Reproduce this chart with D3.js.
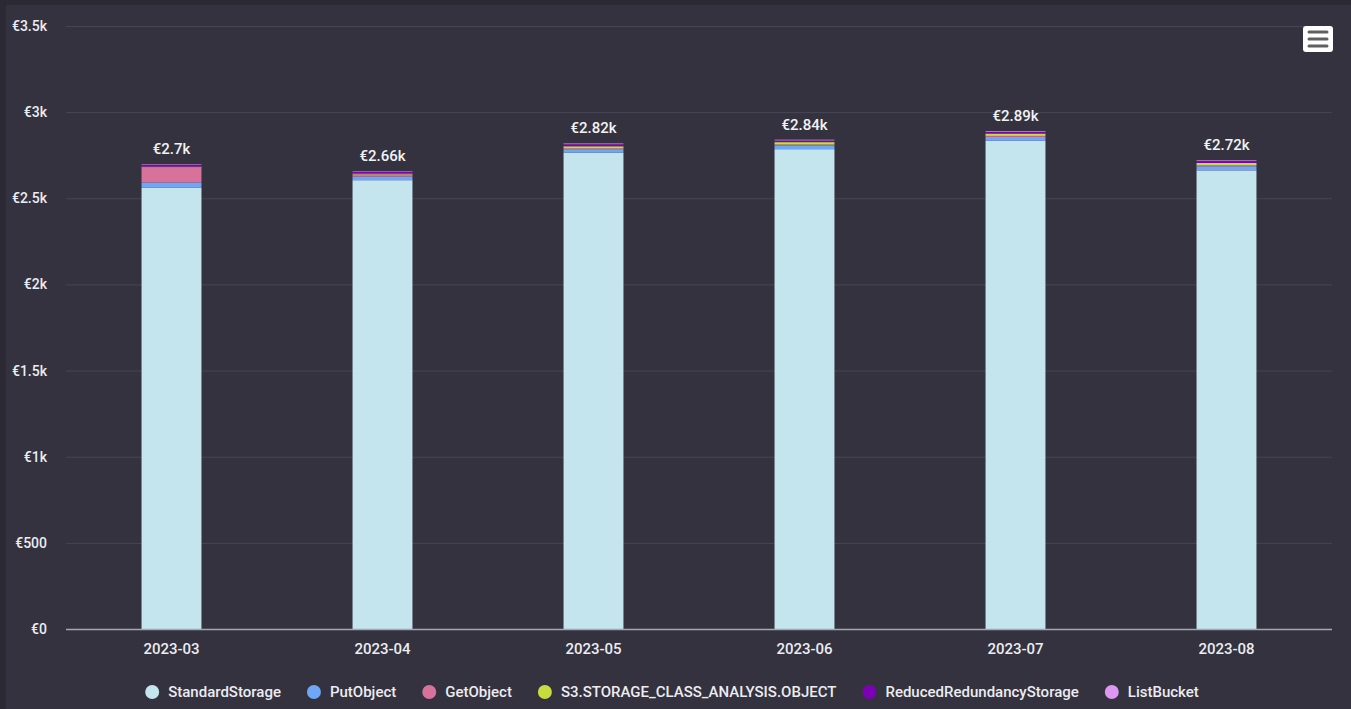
<!DOCTYPE html>
<html>
<head>
<meta charset="utf-8">
<script src="https://cdn.jsdelivr.net/npm/d3@7"></script>
<style>
  html, body { margin: 0; padding: 0; background: #2b2a34; }
  svg { display: block; font-family: Roboto, "Noto Sans", sans-serif; }
</style>
</head>
<body>
<svg id="chart" width="1351" height="709"></svg>
<script>
// Monthly S3 cost per usage type (EUR)
const months = ["2023-03", "2023-04", "2023-05", "2023-06", "2023-07", "2023-08"];
const seriesNames = ["StandardStorage", "PutObject", "GetObject", "S3.STORAGE_CLASS_ANALYSIS.OBJECT", "ReducedRedundancyStorage", "ListBucket"];
const standardStorage = [2562, 2605, 2765, 2785, 2835, 2662];
const putObject       = [30, 22, 20, 22, 22, 24];
const getObject       = [88, 12, 5, 5, 5, 5];
const storageAnalysis = [4, 5, 12, 14, 14, 14];
const reducedRedundancy = [11, 11, 12, 10, 10, 11];
const listBucket      = [3, 3, 4, 4, 4, 4];
const yTicks = [0, 500, 1000, 1500, 2000, 2500, 3000, 3500];
const colors = ["#c4e5ee", "#6fa6f6", "#d8729b", "#c7dc3e", "#7c00b4", "#dc97f2"];

const seriesValues = [standardStorage, putObject, getObject, storageAnalysis, reducedRedundancy, listBucket];
const rows = months.map((m, i) => {
  const r = { month: m };
  seriesNames.forEach((s, k) => { r[s] = seriesValues[k][i]; });
  return r;
});

const svg = d3.select("#chart");
const W = 1351, H = 709;
const margin = { left: 66, right: 19, top: 26, bottom: 80 };

// chart panel
svg.append("rect").attr("x", 6).attr("y", 5).attr("width", W - 6).attr("height", H - 5).attr("fill", "#33323e");

const x = d3.scaleBand().domain(months).range([margin.left, W - margin.right]).paddingInner(0.716).paddingOuter(0.358);
const y = d3.scaleLinear().domain([0, 3500]).range([H - margin.bottom, margin.top]);

const fmt = v => v === 0 ? "€0" : (v < 1000 ? "€" + v : "€" + d3.format("~")(v / 1000) + "k");

// grid
svg.append("g").selectAll("line").data(yTicks.filter(t => t > 0)).join("line")
  .attr("x1", margin.left).attr("x2", W - margin.right)
  .attr("y1", d => y(d) + 0.5).attr("y2", d => y(d) + 0.5)
  .attr("stroke", "#474655").attr("stroke-width", 1);

// y axis labels
const yAxis = svg.append("g").attr("transform", `translate(${margin.left - 19},0)`)
  .call(d3.axisLeft(y).tickValues(yTicks).tickFormat(fmt).tickSize(0).tickPadding(0));
yAxis.select(".domain").remove();
yAxis.selectAll("text").attr("fill", "#ececf2").style("font-size", "14px").style("font-weight", "500").style("font-family", "Roboto, sans-serif");

// stacked bars
const stack = d3.stack().keys(seriesNames);
const layers = stack(rows);
svg.append("g").selectAll("g").data(layers).join("g")
  .attr("fill", (d, i) => colors[i])
  .selectAll("rect").data(d => d).join("rect")
  .attr("x", d => x(d.data.month))
  .attr("width", x.bandwidth())
  .attr("y", d => y(d[1]))
  .attr("height", d => Math.max(0, y(d[0]) - y(d[1])));

// x axis
svg.append("line").attr("x1", margin.left).attr("x2", W - margin.right)
  .attr("y1", y(0) + 0.5).attr("y2", y(0) + 0.5).attr("stroke", "#a7a6b8").attr("stroke-width", 1.5);
const xAxis = svg.append("g").attr("transform", `translate(0,${y(0) + 14})`)
  .call(d3.axisBottom(x).tickSize(0).tickPadding(0));
xAxis.select(".domain").remove();
xAxis.selectAll("text").attr("fill", "#ececf2").style("font-size", "15px").style("font-weight", "500").style("font-family", "Roboto, sans-serif");

// totals
const totals = rows.map(r => d3.sum(seriesNames, s => r[s]));
svg.append("g").selectAll("text").data(months).join("text")
  .attr("x", m => x(m) + x.bandwidth() / 2)
  .attr("y", (m, i) => y(totals[i]) - 10)
  .attr("text-anchor", "middle")
  .attr("fill", "#f2f2f6").style("font-size", "15px").style("font-weight", "500")
  .text((m, i) => "€" + d3.format(".3~")(totals[i] / 1000) + "k");

// legend
const legend = svg.append("g").attr("transform", `translate(0,${H - 17})`);
const items = legend.selectAll("g").data(seriesNames).join("g");
items.append("circle").attr("r", 7).attr("cy", 0).attr("fill", (d, i) => colors[i]);
items.append("text").attr("x", 16).attr("dy", "0.35em").attr("fill", "#ececf2")
  .style("font-size", "15px").style("font-weight", "500").text(d => d);
let pos = 0;
const positions = [];
items.each(function () {
  const w = d3.select(this).select("text").node().getComputedTextLength();
  positions.push(pos);
  pos += 16 + w + 33;
});
const totalW = pos - 33 + 7;
const start = 672 - totalW / 2 + 7;
items.attr("transform", (d, i) => `translate(${start + positions[i]},0)`);

// menu button
const menu = svg.append("g").attr("transform", "translate(1303,26)");
menu.append("rect").attr("width", 30).attr("height", 26).attr("rx", 3).attr("fill", "#ffffff");
[6, 13, 20].forEach(yy => menu.append("line").attr("x1", 6).attr("x2", 24)
  .attr("y1", yy).attr("y2", yy).attr("stroke", "#606060").attr("stroke-width", 3).attr("stroke-linecap", "round"));
</script>
</body>
</html>
